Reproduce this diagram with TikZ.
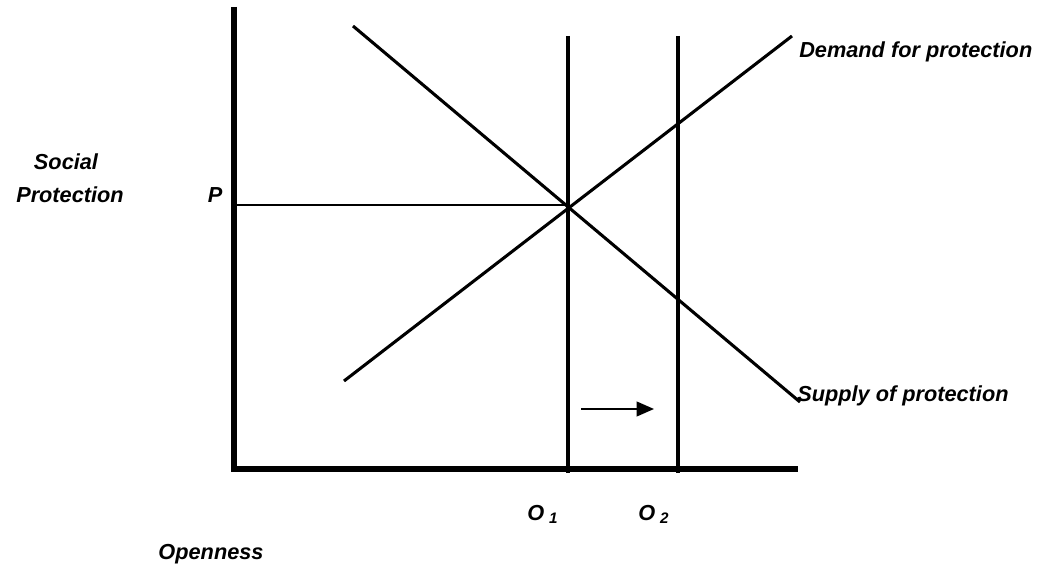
\documentclass[tikz,border=0pt]{standalone}
\usepackage{fontspec}
\setmainfont{Liberation Sans}
\usetikzlibrary{arrows.meta}

\begin{document}
\begin{tikzpicture}[
  x=0.75pt, y=-0.75pt,
  axis/.style={line width=4.5pt},
  openline/.style={line width=3pt},
  curve/.style={line width=2.3pt},
  lbl/.style={font=\fontsize{16.3}{19}\selectfont\bfseries\itshape, inner sep=0pt},
  arr/.style={-{Triangle[length=13pt, width=11pt]}, line width=1.5pt},
]
  \useasboundingbox (0,0) rectangle (1040,570);

  % axes
  \coordinate (ytop) at (234,7);
  \coordinate (origin) at (234,469);
  \coordinate (xend) at (798,469);
  \draw[axis] (ytop) -- (origin) -- (xend);

  % openness levels
  \coordinate (o1top) at (568,36);
  \coordinate (o1bot) at (568,473);
  \coordinate (o2top) at (678,36);
  \coordinate (o2bot) at (678,473);
  \draw[openline] (o1top) -- (o1bot);
  \draw[openline] (o2top) -- (o2bot);

  % supply and demand
  \coordinate (supstart) at (353,26);
  \coordinate (supend) at (800,402);
  \coordinate (demstart) at (344,381);
  \coordinate (demend) at (792,36);
  \draw[curve] (supstart) -- (supend);
  \draw[curve] (demstart) -- (demend);

  % equilibrium level
  \coordinate (pstart) at (234,205);
  \coordinate (eq) at (568,205);
  \draw[line width=1.1pt] (pstart) -- (eq);

  % shift of openness
  \coordinate (shiftfrom) at (581,409);
  \coordinate (shiftto) at (654,409);
  \draw[arr] (shiftfrom) -- (shiftto);

  % labels
  \node[lbl, anchor=base] (social) at (66,170) {Social};
  \node[lbl, anchor=base] (protection) at (70,203) {Protection};
  \node[lbl, anchor=base] (plabel) at (215,203) {P};
  \node[lbl, anchor=base west] (o1label) at (527,520) {O\textsubscript{\,\,1}};
  \node[lbl, anchor=base west] (o2label) at (638,520) {O\textsubscript{\,\,2}};
  \node[lbl, anchor=base] (openness) at (211,560) {Openness};
  \node[lbl, anchor=base west] (demand) at (799,58) {Demand for protection};
  \node[lbl, anchor=base west] (supply) at (797,402) {Supply of protection};
\end{tikzpicture}
\end{document}
